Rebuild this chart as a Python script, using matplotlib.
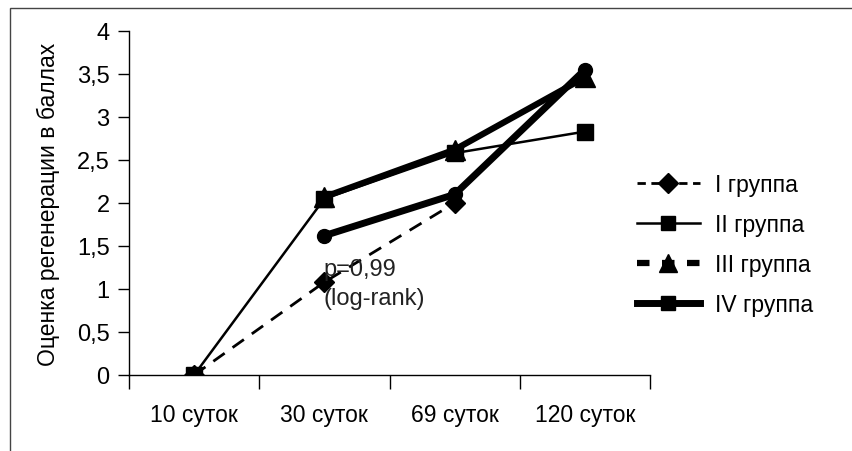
import numpy as np
import matplotlib.pyplot as plt
from matplotlib.lines import Line2D
from matplotlib.patches import Rectangle

plt.rcParams['font.family'] = ['Liberation Sans', 'DejaVu Sans']

days = ['10 суток', '30 суток', '69 суток', '120 суток']
group_names = ['I группа', 'II группа', 'III группа', 'IV группа']
g1 = [0.0, 1.08, 2.0, np.nan]
g2 = [0.0, 2.05, 2.58, 2.83]
g3 = [np.nan, 2.07, 2.62, 3.46]
g4 = [np.nan, 1.62, 2.1, 3.55]
yticks = [0, 0.5, 1, 1.5, 2, 2.5, 3, 3.5, 4]
ytick_labels = ['0', '0,5', '1', '1,5', '2', '2,5', '3', '3,5', '4']

fs = 16.5
fig = plt.figure(figsize=(8.52, 4.52), dpi=100)
ax = fig.add_axes([129 / 852, 1 - 376 / 452, (650 - 129) / 852, (376 - 32) / 452])

x = np.arange(len(days))
ax.plot(x, g1, color='black', lw=2, dashes=(5, 3.5), marker='D', ms=10, zorder=2)
ax.plot(x, g2, color='black', lw=1.8, marker='s', ms=11, zorder=3)
ax.plot(x, g3, color='black', lw=4.5, marker='^', ms=15, zorder=4)
ax.plot(x, g4, color='black', lw=5, marker='o', ms=10, solid_capstyle='round', zorder=5)

ax.text(0.99, 1.23, 'p=0,99', fontsize=17, va='center', ha='left', color='#222222')
ax.text(0.99, 0.9, '(log-rank)', fontsize=17, va='center', ha='left', color='#222222')

ax.set_xlim(-0.5, len(days) - 0.5)
ax.set_ylim(0, 4)
ax.set_xticks(x)
ax.set_xticklabels(days, fontsize=fs)
ax.set_xticks(np.arange(-0.5, len(days)), minor=True)
ax.tick_params(axis='x', which='major', length=0, pad=20)
ax.tick_params(axis='x', which='minor', length=10, width=1)
ax.set_yticks(yticks)
ax.set_yticklabels(ytick_labels, fontsize=17)
ax.tick_params(axis='y', length=8, width=1, pad=6)
ax.set_ylabel('Оценка регенерации в баллах', fontsize=fs, labelpad=12)

for s in ['top', 'right']:
    ax.spines[s].set_visible(False)
for s in ['left', 'bottom']:
    ax.spines[s].set_linewidth(1)

handles = [
    Line2D([], [], color='black', lw=2, dashes=(3, 2), marker='D', ms=10),
    Line2D([], [], color='black', lw=1.8, marker='s', ms=10),
    Line2D([], [], color='black', lw=4.5, dashes=(2, 2), marker='^', ms=13),
    Line2D([], [], color='black', lw=5, marker='s', ms=10),
]
fig.legend(handles, group_names, loc='upper left', bbox_to_anchor=(0.723, 0.661),
           frameon=False, fontsize=fs, handlelength=2.75, labelspacing=0.75,
           handletextpad=0.65)

fig.add_artist(Rectangle((10 / 852, -0.1), 1.2, 1 - 9 / 452 + 0.1,
                         transform=fig.transFigure, fill=False,
                         edgecolor='#444444', lw=1))

fig.savefig('out.png', dpi=100)
